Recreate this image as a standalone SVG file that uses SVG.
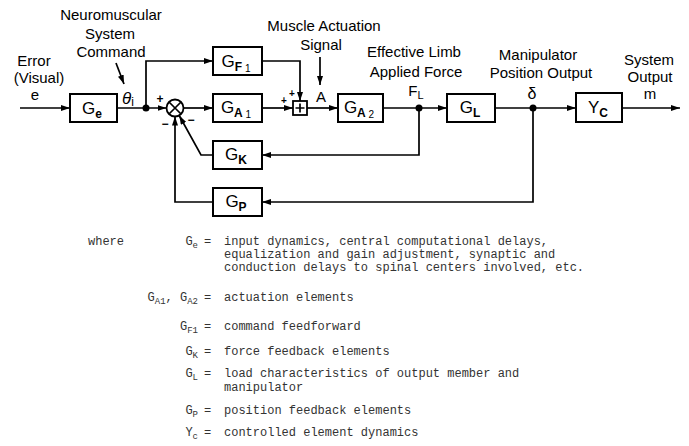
<svg xmlns="http://www.w3.org/2000/svg" width="689" height="446" viewBox="0 0 689 446">
<style>
.box{fill:#fff;stroke:#000;stroke-width:2}
.ln{fill:none;stroke:#000;stroke-width:1.7}
.lbl{font-family:"Liberation Sans",Arial,sans-serif;font-size:15px;fill:#000;text-anchor:middle}
.bl{font-family:"Liberation Sans",Arial,sans-serif;font-size:17px;fill:#000;text-anchor:middle}
.sub{font-size:12px;font-weight:bold}
.sub2{font-size:10px}
.sg{font-family:"Liberation Sans",Arial,sans-serif;font-size:12px;font-weight:bold;fill:#000;text-anchor:middle}
.mono{font-family:"Liberation Mono","Courier New",monospace;font-size:12px;fill:#333}
.dot{fill:#000}
</style>
<defs>
<marker id="arr" markerWidth="9" markerHeight="6" refX="9" refY="3" orient="auto" markerUnits="userSpaceOnUse">
<path d="M0,0 L9,3 L0,6 z" fill="#000"/>
</marker>
</defs>

<g id="connectors">
<path class="ln" d="M20,108 H70" marker-end="url(#arr)"/>
<path class="ln" d="M117,108 H166.5" marker-end="url(#arr)"/>
<path class="ln" d="M146,108 V61 H213" marker-end="url(#arr)"/>
<path class="ln" d="M262,61 H300 V101" marker-end="url(#arr)"/>
<path class="ln" d="M183.5,108 H213" marker-end="url(#arr)"/>
<path class="ln" d="M262,108 H293" marker-end="url(#arr)"/>
<path class="ln" d="M307,108 H338" marker-end="url(#arr)"/>
<path class="ln" d="M383,108 H447" marker-end="url(#arr)"/>
<path class="ln" d="M495,108 H576" marker-end="url(#arr)"/>
<path class="ln" d="M622,108 H680" marker-end="url(#arr)"/>
<path class="ln" d="M419,108 V155 H262" marker-end="url(#arr)"/>
<path class="ln" d="M213,155 H201 L179.2,115.5" marker-end="url(#arr)"/>
<path class="ln" d="M533,108 V202 H262" marker-end="url(#arr)"/>
<path class="ln" d="M213,202 H175 V116.5" marker-end="url(#arr)"/>
<path class="ln" d="M116,63 L124,84" marker-end="url(#arr)"/>
<path class="ln" d="M320,57 V85" marker-end="url(#arr)"/>
<circle class="dot" cx="146" cy="108" r="3.5"/>
<circle class="dot" cx="419" cy="108" r="3.5"/>
<circle class="dot" cx="533" cy="108" r="3.5"/>
</g>

<g id="Ge">
<rect class="box" x="70" y="94" width="47" height="28"/>
<text class="bl" x="92" y="114">G<tspan class="sub" dy="4">e</tspan></text>
</g>
<g id="sum1">
<circle cx="175" cy="108" r="8.5" fill="#fff" stroke="#000" stroke-width="1.8"/>
<path class="ln" d="M169,102 L181,114 M181,102 L169,114"/>
<text class="sg" x="160" y="103">+</text>
<text class="sg" x="165" y="128">−</text>
<text class="sg" x="191" y="124">−</text>
</g>
<g id="GF1">
<rect class="box" x="213" y="47" width="49" height="28"/>
<text class="bl" x="236" y="67">G<tspan class="sub" dy="4">F</tspan><tspan class="sub2" dy="1"> 1</tspan></text>
</g>
<g id="GA1">
<rect class="box" x="213" y="94" width="49" height="28"/>
<text class="bl" x="236" y="113">G<tspan class="sub" dy="4">A</tspan><tspan class="sub2" dy="1"> 1</tspan></text>
</g>
<g id="sum2">
<rect x="293" y="101" width="14" height="14" fill="#fff" stroke="#000" stroke-width="1.8"/>
<path class="ln" d="M300,103.5 V112.5 M295.5,108 H304.5"/>
<text class="sg" x="284" y="104" style="font-size:10px">+</text>
<text class="sg" x="292" y="97" style="font-size:10px">+</text>
</g>
<g id="GA2">
<rect class="box" x="338" y="94" width="45" height="28"/>
<text class="bl" x="359" y="113">G<tspan class="sub" dy="4">A</tspan><tspan class="sub2" dy="1"> 2</tspan></text>
</g>
<g id="GL">
<rect class="box" x="447" y="94" width="48" height="28"/>
<text class="bl" x="470" y="113">G<tspan class="sub" dy="4" font-weight="normal">L</tspan></text>
</g>
<g id="Yc">
<rect class="box" x="576" y="93" width="46" height="29"/>
<text class="bl" x="598" y="113">Y<tspan class="sub" dy="4" font-weight="normal">C</tspan></text>
</g>
<g id="GK">
<rect class="box" x="213" y="141" width="49" height="28"/>
<text class="bl" x="236" y="160">G<tspan class="sub" dy="4">K</tspan></text>
</g>
<g id="GP">
<rect class="box" x="213" y="188" width="49" height="28"/>
<text class="bl" x="236" y="207">G<tspan class="sub" dy="4">P</tspan></text>
</g>

<g id="labels">
<text class="lbl" x="111" y="20">Neuromuscular</text>
<text class="lbl" x="110" y="39">System</text>
<text class="lbl" x="111" y="57">Command</text>
<text class="lbl" x="34" y="66">Error</text>
<text class="lbl" x="39" y="83">(Visual)</text>
<text class="lbl" x="35" y="100">e</text>
<text class="lbl" x="128" y="104" style="font-size:17px;font-style:italic">θ<tspan style="font-size:12px;font-style:normal" dy="2">i</tspan></text>
<text class="lbl" x="324" y="31">Muscle Actuation</text>
<text class="lbl" x="321" y="50">Signal</text>
<text class="lbl" x="321" y="102">A</text>
<text class="lbl" x="414" y="57">Effective Limb</text>
<text class="lbl" x="416" y="77">Applied Force</text>
<text class="lbl" x="416" y="96">F<tspan style="font-size:11px" dy="3">L</tspan></text>
<text class="lbl" x="538" y="60">Manipulator</text>
<text class="lbl" x="541" y="78">Position Output</text>
<text class="lbl" x="532" y="99" style="font-size:16px">δ</text>
<text class="lbl" x="649" y="65">System</text>
<text class="lbl" x="650" y="82">Output</text>
<text class="lbl" x="650" y="99">m</text>
</g>

<g id="legend">
<text class="mono" x="88" y="245">where</text>
<text class="mono" x="198" y="245" text-anchor="end">G<tspan font-size="9" dy="3">e</tspan></text>
<text class="mono" x="204" y="245">=</text>
<text class="mono" x="224" y="245">input dynamics, central computational delays,</text>
<text class="mono" x="224" y="258">equalization and gain adjustment, synaptic and</text>
<text class="mono" x="224" y="271">conduction delays to spinal centers involved, etc.</text>
<text class="mono" x="198" y="301" text-anchor="end">G<tspan font-size="9" dy="3">A1</tspan><tspan dy="-3">, G</tspan><tspan font-size="9" dy="3">A2</tspan></text>
<text class="mono" x="204" y="301">=</text>
<text class="mono" x="224" y="301">actuation elements</text>
<text class="mono" x="198" y="330" text-anchor="end">G<tspan font-size="9" dy="3">F1</tspan></text>
<text class="mono" x="204" y="330">=</text>
<text class="mono" x="224" y="330">command feedforward</text>
<text class="mono" x="198" y="355" text-anchor="end">G<tspan font-size="9" dy="3">K</tspan></text>
<text class="mono" x="204" y="355">=</text>
<text class="mono" x="224" y="355">force feedback elements</text>
<text class="mono" x="198" y="377" text-anchor="end">G<tspan font-size="9" dy="3">L</tspan></text>
<text class="mono" x="204" y="377">=</text>
<text class="mono" x="224" y="377">load characteristics of output member and</text>
<text class="mono" x="224" y="391">manipulator</text>
<text class="mono" x="198" y="414" text-anchor="end">G<tspan font-size="9" dy="3">P</tspan></text>
<text class="mono" x="204" y="414">=</text>
<text class="mono" x="224" y="414">position feedback elements</text>
<text class="mono" x="198" y="436" text-anchor="end">Y<tspan font-size="9" dy="3">c</tspan></text>
<text class="mono" x="204" y="436">=</text>
<text class="mono" x="224" y="436">controlled element dynamics</text>
</g>
</svg>
